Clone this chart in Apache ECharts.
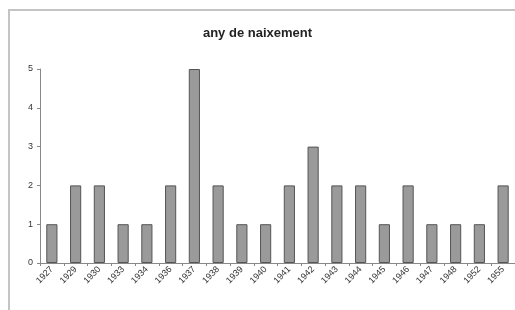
<!DOCTYPE html>
<html>
<head>
<meta charset="utf-8">
<script src="https://cdn.jsdelivr.net/npm/echarts@6/dist/echarts.min.js"></script>
<style>
html,body{margin:0;padding:0;background:#fff;}
#main{width:515px;height:310px;}
</style>
</head>
<body>
<div id="main"></div>
<script>
// any de naixement
var years = ['1927','1929','1930','1933','1934','1936','1937','1938','1939','1940',
  '1941','1942','1943','1944','1945','1946','1947','1948','1952','1955'];
var counts = [1,2,2,1,1,2,5,2,1,1,2,3,2,2,1,2,1,1,1,2];
var yTicks = [0,1,2,3,4,5];

var chart = echarts.init(document.getElementById('main'));
chart.setOption({
  animation: false,
  backgroundColor: '#fff',
  // cadre gris autour du graphique (coupé à droite et en bas)
  graphic: [{
    type: 'polyline',
    shape: {points: [[9, 330], [9, 10], [600, 10]]},
    style: {fill: 'none', stroke: '#c4c4c4', lineWidth: 2},
    silent: true
  }],
  title: {
    text: 'any de naixement',
    left: 'center',
    top: 22,
    textStyle: {fontFamily: 'Liberation Sans', fontSize: 13, fontWeight: 'bold', color: '#222'}
  },
  grid: {left: 40, right: 0, top: 69, bottom: 47},
  xAxis: {
    type: 'category',
    data: years,
    axisLine: {lineStyle: {color: '#888'}},
    axisTick: {show: true, length: 3, lineStyle: {color: '#888'}},
    axisLabel: {rotate: 45, fontSize: 9, color: '#333', margin: 5, fontFamily: 'Liberation Sans'}
  },
  yAxis: {
    type: 'value',
    min: yTicks[0],
    max: yTicks[yTicks.length - 1],
    interval: 1,
    splitLine: {show: false},
    axisLine: {show: true, lineStyle: {color: '#888'}},
    axisTick: {show: true, length: 3, lineStyle: {color: '#888'}},
    axisLabel: {fontSize: 9, color: '#333', margin: 7, fontFamily: 'Liberation Sans'}
  },
  series: [{
    type: 'bar',
    data: counts,
    barWidth: '47%',
    itemStyle: {color: '#9a9a9a', borderColor: '#555', borderWidth: 1}
  }]
});
</script>
</body>
</html>
